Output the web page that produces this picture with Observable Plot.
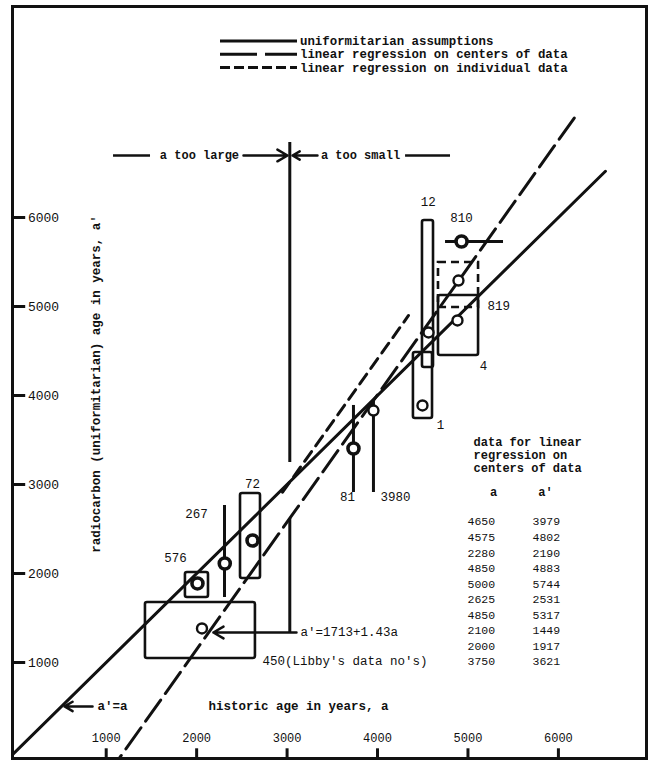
<!DOCTYPE html>
<html><head><meta charset="utf-8">
<script src="https://cdn.jsdelivr.net/npm/d3@7"></script>
<script src="https://cdn.jsdelivr.net/npm/@observablehq/plot@0.6"></script>
<style>
body{margin:0;background:#fff;}
#chart{position:relative;width:650px;height:761px;}
#legend{position:absolute;left:0;top:0;pointer-events:none;}
</style></head><body><div id="chart"></div>
<script>
// ---- axes ----
const xTicks = [1000, 2000, 3000, 4000, 5000, 6000];
const yTicks = [1000, 2000, 3000, 4000, 5000, 6000];

// ---- lines (endpoints, a = historic age, b = radiocarbon age a') ----
const uniformA = [-100, 6520], uniformB = [-100, 6520];          // a' = a
const centersA = [1000, 6222], centersB = [-283, 7185];          // regression on centers of data
const individualA = [2950, 4343], individualB = [2913, 4899];    // regression on individual data

// ---- samples ----
const boxIds  = ["450", "576", "72", "1", "12", "4", "819"];
const boxA1   = [1434, 1876, 2485, 4397, 4497, 4674, 4674];
const boxA2   = [2650, 2131, 2706, 4608, 4619, 5117, 5117];
const boxB1   = [1045, 1730, 1944, 3742, 4315, 4449, 4989];
const boxB2   = [1674, 2011, 2899, 4483, 5966, 5124, 5494];
const boxDashed = [false, false, false, false, false, false, true];

const vBarIds = ["267", "81", "3980"];
const vBarA   = [2308, 3734, 3955];
const vBarB1  = [1730, 2910, 2910];
const vBarB2  = [2764, 3888, 3944];

const hBarIds = ["810"];
const hBarA1  = [4752], hBarA2 = [5393], hBarB = [5730];

const dotIds = ["450", "576", "267", "72", "81", "3980", "1", "12", "810", "819", "4"];
const dotA   = [2059, 2009, 2311, 2618, 3734, 3955, 4497, 4564, 4929, 4895, 4884];
const dotB   = [1382, 1888, 2112, 2371, 3404, 3831, 3888, 4708, 5730, 5292, 4843];
const dotHeavy = [false, true, true, true, true, false, false, false, true, false, false];

const labelText = ["12", "810", "819", "4", "1", "81", "3980", "72", "267", "576", "450(Libby's data no's)"];
const labelA    = [4562, 4929, 5216, 5172, 4696, 3668, 4032, 2618, 1998, 1766, 2728];
const labelB    = [6169, 6000, 5011, 4337, 3663, 2854, 2854, 3011, 2663, 2169, 1022];
const labelAnchor = ["middle", "middle", "start", "middle", "middle", "middle", "start", "middle", "middle", "middle", "start"];

// ---- table ----
const tableTitle = "data for linear\nregression on\ncenters of data";
const tableColA  = [4650, 4575, 2280, 4850, 5000, 2625, 4850, 2100, 2000, 3750];
const tableColA2 = [3979, 4802, 2190, 4883, 5744, 2531, 5317, 1449, 1917, 3621];

// ---- annotations ----
const dividerA = 3030;
const dividerSegB1 = [6843, 2618], dividerSegB2 = [3247, 1337];
const equationText = "a'=1713+1.43a";

const ink = "#111";
const rows = (ids, f) => ids.map((id, i) => f(id, i));

const boxes = rows(boxIds, (id, i) => ({id, a1: boxA1[i], a2: boxA2[i], b1: boxB1[i], b2: boxB2[i], dashed: boxDashed[i]}));
const vBars = rows(vBarIds, (id, i) => ({id, a: vBarA[i], b1: vBarB1[i], b2: vBarB2[i]}));
const hBars = rows(hBarIds, (id, i) => ({id, a1: hBarA1[i], a2: hBarA2[i], b: hBarB[i]}));
const dots  = rows(dotIds, (id, i) => ({id, a: dotA[i], b: dotB[i], heavy: dotHeavy[i]}));
const labels = rows(labelText, (t, i) => ({t, a: labelA[i], b: labelB[i], anchor: labelAnchor[i]}));
const pts = (A, B) => A.map((a, i) => ({a, b: B[i]}));

const xMin = -36, yMin = -79;
const mono = "'Liberation Mono', 'DejaVu Sans Mono', monospace";

const chart = Plot.plot({
  width: 650, height: 761,
  marginLeft: 12, marginRight: 4, marginTop: 6, marginBottom: 3,
  x: {domain: [xMin, 6974], axis: null},
  y: {domain: [yMin, 8371], axis: null},
  style: {fontFamily: mono, background: "white", color: ink},
  marks: [
    // ticks and labels
    Plot.ruleY(yTicks, {y: d => d, x1: xMin, x2: 110, stroke: ink, strokeWidth: 3}),
    Plot.text(yTicks, {y: d => d, x: 135, text: d => String(d), textAnchor: "start", fontSize: 13, fill: ink}),
    Plot.ruleX(xTicks, {x: d => d, y1: yMin, y2: 30, stroke: ink, strokeWidth: 3}),
    Plot.text(xTicks, {x: d => d, y: 146, text: d => String(d), fontSize: 12, fill: ink}),
    Plot.text(["historic age in years, a"], {x: 2131, y: 506, text: d => d, textAnchor: "start", fontSize: 12.5, fontWeight: "bold", fill: ink}),
    Plot.text(["radiocarbon (uniformitarian) age in years, a'"], {x: 882, y: 4129, text: d => d, rotate: -90, fontSize: 12.5, fontWeight: "bold", fill: ink}),

    // lines
    Plot.line(pts(uniformA, uniformB), {x: "a", y: "b", stroke: ink, strokeWidth: 3, clip: true}),
    Plot.line(pts(centersA, centersB), {x: "a", y: "b", stroke: ink, strokeWidth: 3, strokeDasharray: "26,8", clip: true}),
    Plot.line(pts(individualA, individualB), {x: "a", y: "b", stroke: ink, strokeWidth: 3, strokeDasharray: "12,7", clip: true}),

    // boxes and bars
    Plot.rect(boxes.filter(d => !d.dashed), {x1: "a1", x2: "a2", y1: "b1", y2: "b2", fill: "none", stroke: ink, strokeWidth: 2.6, rx: 2}),
    Plot.rect(boxes.filter(d => d.dashed), {x1: "a1", x2: "a2", y1: "b1", y2: "b2", fill: "none", stroke: ink, strokeWidth: 2.6, strokeDasharray: "8,5"}),
    Plot.ruleX(vBars, {x: "a", y1: "b1", y2: "b2", stroke: ink, strokeWidth: 3}),
    Plot.ruleY(hBars, {y: "b", x1: "a1", x2: "a2", stroke: ink, strokeWidth: 3}),
    Plot.dot(dots.filter(d => !d.heavy), {x: "a", y: "b", r: 5, fill: "white", stroke: ink, strokeWidth: 2.4}),
    Plot.dot(dots.filter(d => d.heavy), {x: "a", y: "b", r: 5.5, fill: "white", stroke: ink, strokeWidth: 3.6}),
    Plot.text(labels.filter(d => d.anchor === "middle"), {x: "a", y: "b", text: "t", textAnchor: "middle", fontSize: 12.5, fill: ink}),
    Plot.text(labels.filter(d => d.anchor === "start"), {x: "a", y: "b", text: "t", textAnchor: "start", fontSize: 12.5, fill: ink}),

    // divider "a too large | a too small"
    Plot.ruleX(dividerSegB1.map((b1, i) => ({b1, b2: dividerSegB2[i]})), {x: dividerA, y1: "b1", y2: "b2", stroke: ink, strokeWidth: 3}),
    Plot.ruleY([6697], {y: d => d, x1: 1081, x2: 1490, stroke: ink, strokeWidth: 2.5}),
    Plot.ruleY([6697], {y: d => d, x1: 4310, x2: 4807, stroke: ink, strokeWidth: 2.5}),
    Plot.arrow([{a1: 2518, a2: 3005}, {a1: 3336, a2: 3060}], {x1: "a1", x2: "a2", y1: 6697, y2: 6697, stroke: ink, strokeWidth: 2.5, headLength: 7}),
    Plot.text(["a too large", "a too small"], {x: (d, i) => [2031, 3812][i], y: 6697, text: d => d, fontSize: 12, fontWeight: "bold", fill: ink}),

    // equation arrow
    Plot.arrow([{a1: 3104, a2: 2185}], {x1: "a1", x2: "a2", y1: 1337, y2: 1337, stroke: ink, strokeWidth: 2.5, headLength: 7}),
    Plot.text([equationText], {x: 3148, y: 1337, text: d => d, textAnchor: "start", fontSize: 12.5, fill: ink}),

    // a'=a arrow
    Plot.arrow([{a1: 849, a2: 539}], {x1: "a1", x2: "a2", y1: 506, y2: 506, stroke: ink, strokeWidth: 2.5, headLength: 7}),
    Plot.text(["a'=a"], {x: 904, y: 506, text: d => d, textAnchor: "start", fontSize: 12.5, fontWeight: "bold", fill: ink}),

    // table
    Plot.text([tableTitle], {x: 5062, y: 3337, text: d => d, textAnchor: "start", lineAnchor: "middle", lineHeight: 1.08, fontSize: 12, fontWeight: "bold", fill: ink}),
    Plot.text(["a", "a'"], {x: (d, i) => [5282, 5858][i], y: 2910, text: d => d, fontSize: 12, fontWeight: "bold", fill: ink}),
    Plot.text([tableColA.join("\n")], {x: 4995, y: 1809, text: d => d, textAnchor: "start", lineAnchor: "middle", lineHeight: 1.353, fontSize: 11.5, fill: ink}),
    Plot.text([tableColA2.join("\n")], {x: 5714, y: 1809, text: d => d, textAnchor: "start", lineAnchor: "middle", lineHeight: 1.353, fontSize: 11.5, fill: ink}),

    Plot.frame({stroke: ink, strokeWidth: 3})
  ]
});
document.getElementById("chart").appendChild(chart);

// ---- legend (inside the frame, top) ----
const legendItems = ["uniformitarian assumptions", "linear regression on centers of data", "linear regression on individual data"];
const legendDash = ["none", "37,8", "10,4"];
const ns = "http://www.w3.org/2000/svg";
const lg = document.createElementNS(ns, "svg");
lg.setAttribute("id", "legend"); lg.setAttribute("width", 650); lg.setAttribute("height", 90);
legendItems.forEach((t, i) => {
  const y = 41 + i * 13.3;
  const l = document.createElementNS(ns, "line");
  l.setAttribute("x1", 220); l.setAttribute("x2", 297); l.setAttribute("y1", y); l.setAttribute("y2", y);
  l.setAttribute("stroke", ink); l.setAttribute("stroke-width", 3);
  if (legendDash[i] !== "none") l.setAttribute("stroke-dasharray", legendDash[i]);
  lg.appendChild(l);
  const tx = document.createElementNS(ns, "text");
  tx.setAttribute("x", 300); tx.setAttribute("y", y); tx.setAttribute("dy", "0.32em");
  tx.setAttribute("font-family", mono); tx.setAttribute("font-size", 12.4); tx.setAttribute("font-weight", "bold");
  tx.setAttribute("fill", ink);
  tx.textContent = t;
  lg.appendChild(tx);
});
document.getElementById("chart").appendChild(lg);
</script></body></html>
